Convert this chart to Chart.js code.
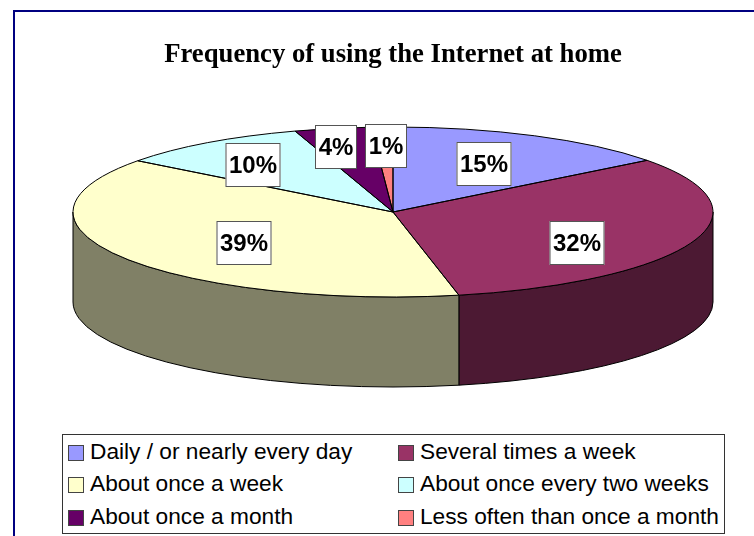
<!DOCTYPE html>
<html lang="en">
  <head>
    <meta charset="UTF-8" />
    <title>Frequency of using the Internet at home</title>
    <script src="https://cdn.jsdelivr.net/npm/chart.js"></script>
    <style>
      html, body { margin: 0; padding: 0; background: #fff; overflow: hidden; }
      .wrap { position: relative; width: 754px; height: 536px; overflow: hidden; }
      .frame {
        position: absolute; left: 13px; top: 10px; width: 800px; height: 600px;
        border-left: 2px solid #000080; border-top: 2px solid #000080;
      }
      canvas { position: absolute; left: 0; top: 0; }
      .legend {
        position: absolute; left: 62px; top: 434px; width: 661px; height: 98px;
        border: 1px solid #333; background: #fff;
        font: 22.7px "Liberation Sans", Arial, sans-serif; color: #000;
      }
      .legend-item { position: absolute; white-space: nowrap; line-height: 32px; }
      .legend-item i {
        position: absolute; left: -22px; top: 10px; width: 14px; height: 14px;
        border: 1px solid #444;
      }
    </style>
  </head>
  <body>
    <div class="wrap">
      <div class="frame"></div>
      <canvas id="pieChart" width="754" height="536"></canvas>
      <div class="legend" id="legend"></div>
    </div>

    <script>
      const categories = [
        "Daily / or nearly every day",
        "Several times a week",
        "About once a week",
        "About once every two weeks",
        "About once a month",
        "Less often than once a month",
      ];
      // estimated from the slice edges, the labels show them rounded
      const shares = [14.6, 32.1, 38.6, 9.75, 3.85, 1.1];
      const topColors = ["#9999ff", "#993366", "#ffffcc", "#ccffff", "#660066", "#ff8080"];
      const sideColors = ["#4d4d80", "#4c1933", "#808066", "#668080", "#330033", "#804040"];

      // ellipse of the pie top, depth of the side wall
      const CX = 393, CY = 212, RX = 320, RY = 85, DEPTH = 90;
      // how far along the radius each label sits [x, y]
      const labelPos = [[0.64, 0.63], [0.613, 1.04], [0.55, 0.67], [0.755, 0.68], [0.95, 0.78], [0.64, 0.78]];

      const pie3d = {
        id: "pie3d",
        beforeDatasetsDraw(chart) {
          const ctx = chart.ctx;
          const arcs = chart.getDatasetMeta(0).data;
          // side wall, only the front half of the ellipse shows
          arcs.forEach((arc, i) => {
            const a0 = Math.max(arc.startAngle, 0);
            const a1 = Math.min(arc.endAngle, Math.PI);
            if (a1 <= a0) return;
            ctx.beginPath();
            ctx.ellipse(CX, CY, RX, RY, 0, a0, a1);
            ctx.ellipse(CX, CY + DEPTH, RX, RY, 0, a1, a0, true);
            ctx.closePath();
            ctx.fillStyle = sideColors[i];
            ctx.fill();
            ctx.strokeStyle = "#000";
            ctx.lineWidth = 1;
            ctx.stroke();
          });
          // squash the library's round pie onto the ellipse
          const { x, y, outerRadius: r } = arcs[0];
          ctx.save();
          ctx.translate(CX, CY);
          ctx.scale(RX / r, RY / r);
          ctx.translate(-x, -y);
        },
        afterDatasetsDraw(chart) {
          const ctx = chart.ctx;
          ctx.restore();
          const arcs = chart.getDatasetMeta(0).data;
          ctx.strokeStyle = "#000";
          ctx.lineWidth = 1;
          arcs.forEach((arc) => {
            ctx.beginPath();
            ctx.moveTo(CX, CY);
            ctx.ellipse(CX, CY, RX, RY, 0, arc.startAngle, arc.endAngle);
            ctx.closePath();
            ctx.stroke();
          });
          // percent labels
          ctx.font = 'bold 24px "Liberation Sans", Arial, sans-serif';
          ctx.textAlign = "center";
          ctx.textBaseline = "middle";
          arcs.forEach((arc, i) => {
            const mid = (arc.startAngle + arc.endAngle) / 2;
            const lx = Math.round(CX + RX * labelPos[i][0] * Math.cos(mid));
            const ly = Math.round(CY + RY * labelPos[i][1] * Math.sin(mid));
            const text = Math.round(shares[i]) + "%";
            const w = Math.round(ctx.measureText(text).width) + 7;
            const h = 44;
            ctx.fillStyle = "#fff";
            ctx.fillRect(lx - w / 2, ly - h / 2, w, h);
            ctx.strokeStyle = "#555";
            ctx.strokeRect(lx - w / 2 + 0.5, ly - h / 2 + 0.5, w - 1, h - 1);
            ctx.fillStyle = "#000";
            ctx.fillText(text, lx, ly + 1);
          });
        },
      };

      new Chart(document.getElementById("pieChart").getContext("2d"), {
        type: "pie",
        data: {
          labels: categories,
          datasets: [
            {
              data: shares,
              backgroundColor: topColors,
              borderWidth: 0,
              clip: false,
            },
          ],
        },
        options: {
          responsive: false,
          animation: false,
          // pushes the centred title over the pie
          layout: { padding: { left: 32 } },
          plugins: {
            legend: { display: false },
            tooltip: { enabled: false },
            title: {
              display: true,
              text: "Frequency of using the Internet at home",
              color: "#000",
              font: { family: '"Liberation Serif", "Times New Roman", serif', size: 26.7, weight: "bold" },
              padding: { top: 39, bottom: 10 },
            },
          },
        },
        plugins: [pie3d],
      });

      // legend box, two columns
      const legendBox = document.getElementById("legend");
      const colX = [27, 357];
      const rowY = [0, 32, 65];
      categories.forEach((name, i) => {
        const item = document.createElement("div");
        item.className = "legend-item";
        item.style.left = colX[i % 2] + "px";
        item.style.top = rowY[Math.floor(i / 2)] + "px";
        item.innerHTML = '<i style="background:' + topColors[i] + '"></i>' + name;
        legendBox.appendChild(item);
      });
    </script>
  </body>
</html>
